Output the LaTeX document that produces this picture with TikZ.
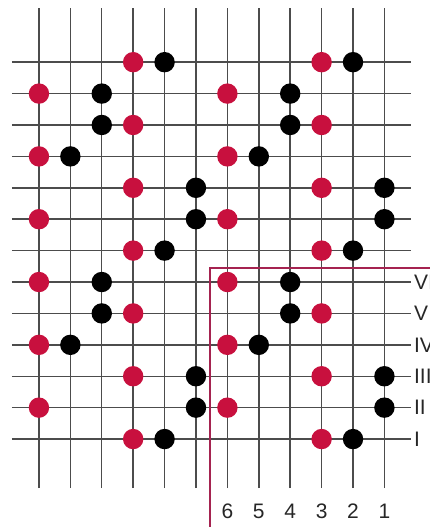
\documentclass[tikz,border=0pt]{standalone}
\usepackage{fontspec}
\setmainfont{Liberation Sans}
\usetikzlibrary{positioning}
\definecolor{beadred}{RGB}{200,16,62}
\definecolor{framered}{RGB}{165,35,80}

\begin{document}
\begin{tikzpicture}[
    wire/.style={line width=1.3pt, black!70},
    bead/.style={circle, inner sep=0pt, minimum size=6.5mm, fill=#1},
    bead/.default=beadred,
    lbl/.style={font=\fontsize{19}{21}\selectfont, text=black!85, inner sep=0pt},
    frame/.style={line width=1.5pt, framered},
]
\useasboundingbox (0,0) rectangle (13.69,16.78);

% Grid
\foreach \j in {1,...,13}
  \draw[wire] (0.38,{1.8+\j}) -- (13.09,{1.8+\j});
\foreach \i in {1,...,12}
  \draw[wire] ({0.24+\i},1.24) -- ({0.24+\i},16.53);

% Frame
\coordinate (fbot) at (6.69,0);
\coordinate (fcor) at (6.69,8.25);
\coordinate (fend) at (13.69,8.25);
\draw[frame] (fbot) -- (fcor) -- (fend);

% Beads: row / red column / black column (rows counted from the bottom)
\foreach \j/\r/\k in {1/4/5, 2/1/6, 3/4/6, 4/1/2, 5/4/3, 6/1/3, 7/4/5,
                      8/1/6, 9/4/6, 10/1/2, 11/4/3, 12/1/3, 13/4/5}
  \foreach \s in {0,6} {
    \node[bead]       (r-\j-\s) at ({0.24+\r+\s},{1.8+\j}) {};
    \node[bead=black] (k-\j-\s) at ({0.24+\k+\s},{1.8+\j}) {};
  }

% Labels
\foreach \j/\t in {1/I, 2/II, 3/III, 4/IV, 5/V, 6/VI}
  \node[lbl, anchor=west] (row\j) at (13.18,{1.8+\j}) {\t};
\foreach \i/\t in {7/6, 8/5, 9/4, 10/3, 11/2, 12/1}
  \node[lbl] (col\t) at ({0.24+\i},0.49) {\t};
\end{tikzpicture}
\end{document}
